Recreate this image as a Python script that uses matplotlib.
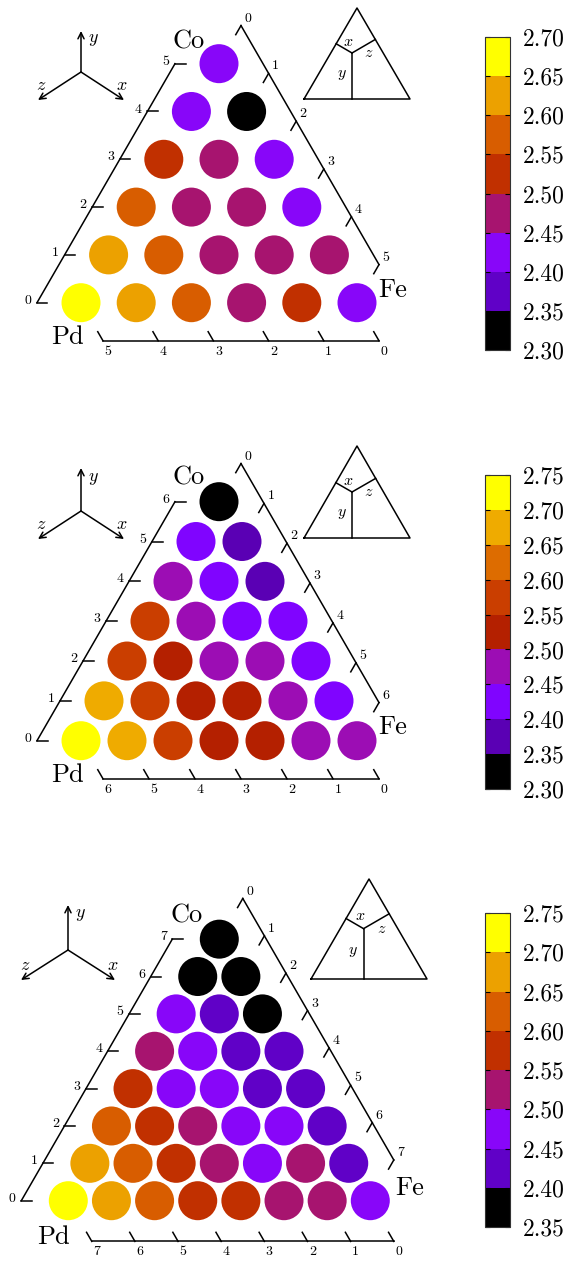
import numpy as np
import matplotlib
matplotlib.use("Agg")
import matplotlib.pyplot as plt
from matplotlib.colors import BoundaryNorm
from matplotlib.cm import ScalarMappable
from matplotlib.ticker import FormatStrFormatter

plt.rcParams["font.family"] = "serif"
plt.rcParams["font.serif"] = ["cmr10"]
plt.rcParams["mathtext.fontset"] = "cm"
plt.rcParams["axes.formatter.use_mathtext"] = True

# ---------------- data (rows from the Pd-Fe edge up to the Co corner) -------------
corner_labels = ["Pd", "Fe", "Co"]

top_rows = [
    [2.675, 2.625, 2.575, 2.475, 2.525, 2.425],
    [2.625, 2.575, 2.475, 2.475, 2.475],
    [2.575, 2.475, 2.475, 2.425],
    [2.525, 2.475, 2.425],
    [2.425, 2.325],
    [2.425],
]
top_range = (2.30, 2.70)
top_bins = 8

mid_rows = [
    [2.725, 2.675, 2.575, 2.525, 2.525, 2.475, 2.475],
    [2.675, 2.575, 2.525, 2.525, 2.475, 2.425],
    [2.575, 2.525, 2.475, 2.475, 2.425],
    [2.575, 2.475, 2.425, 2.425],
    [2.475, 2.425, 2.375],
    [2.425, 2.375],
    [2.325],
]
mid_range = (2.30, 2.75)
mid_bins = 9

bot_rows = [
    [2.725, 2.675, 2.625, 2.575, 2.575, 2.525, 2.525, 2.475],
    [2.675, 2.625, 2.575, 2.525, 2.475, 2.525, 2.425],
    [2.625, 2.575, 2.525, 2.475, 2.475, 2.425],
    [2.575, 2.475, 2.475, 2.425, 2.425],
    [2.525, 2.475, 2.425, 2.425],
    [2.475, 2.425, 2.375],
    [2.375, 2.375],
    [2.375],
]
bot_range = (2.35, 2.75)
bot_bins = 8

# ---------------- figure ------------------------------------------------------------
W, H, DPI = 571, 1261, 100
fig = plt.figure(figsize=(W / DPI, H / DPI), dpi=DPI)
SQ = np.sqrt(3) / 2


def draw_panel(rows, vrange, nbins, pd_px, span_px, off_px, comp_c, comp_tips,
               comp_lab, inset_apex, inset_half, inset_h, cbar_y, lab_off):
    scale = len(rows) - 1
    s = span_px / scale
    px0, py0 = pd_px
    ax = fig.add_axes([0, 0, 1, 1])
    ax.set_xlim(-px0 / s, (W - px0) / s)
    ax.set_ylim((py0 - H) / s, py0 / s)
    ax.axis("off")
    ax.patch.set_alpha(0)

    def to(px, py):  # absolute pixel -> data
        return (px - px0) / s, (py0 - py) / s

    def d(dx, dy):  # pixel offset (image orientation) -> data offset
        return np.array([dx / s, -dy / s])

    cmap = matplotlib.colormaps["gnuplot"].resampled(nbins)
    bounds = np.linspace(vrange[0], vrange[1], nbins + 1)
    norm = BoundaryNorm(bounds, nbins)

    xs, ys, vs = [], [], []
    for j, row in enumerate(rows):
        for i, v in enumerate(row):
            xs.append(i + j / 2)
            ys.append(j * SQ)
            vs.append(v)
    diam_pt = 39.0 * 72 / DPI
    ax.scatter(xs, ys, c=vs, cmap=cmap, norm=norm, s=diam_pt ** 2,
               linewidths=0, zorder=3)

    Pd = np.array([0.0, 0.0])
    Fe = np.array([scale, 0.0])
    Co = np.array([scale / 2, scale * SQ])
    off = off_px / s
    tl = 10.5 / s
    lw = 1.1
    L = np.array([-off, 0.0])
    R = off * np.array([0.5, SQ])
    B = off * np.array([0.5, -SQ])
    fs_t = 10

    # left axis (Co count)
    a, b = Pd + L, Co + L
    ax.plot([a[0], b[0]], [a[1], b[1]], color="black", lw=lw)
    for k in range(scale + 1):
        p = Pd + k / scale * (Co - Pd) + L
        ax.plot([p[0], p[0] + tl], [p[1], p[1]], color="black", lw=lw)
        q = p + d(-9, -2)
        ax.text(q[0], q[1], str(k), fontsize=fs_t, ha="center", va="center")
    # right axis (Fe count)
    a, b = Co + R, Fe + R
    ax.plot([a[0], b[0]], [a[1], b[1]], color="black", lw=lw)
    for k in range(scale + 1):
        p = Co + k / scale * (Fe - Co) + R
        e = p + tl * np.array([-0.5, -SQ])
        ax.plot([p[0], e[0]], [p[1], e[1]], color="black", lw=lw)
        q = p + d(7, -7)
        ax.text(q[0], q[1], str(k), fontsize=fs_t, ha="center", va="center")
    # bottom axis (Pd count)
    a, b = Pd + B, Fe + B
    ax.plot([a[0], b[0]], [a[1], b[1]], color="black", lw=lw)
    for k in range(scale + 1):
        p = Pd + k / scale * (Fe - Pd) + B
        e = p + tl * np.array([-0.5, SQ])
        ax.plot([p[0], e[0]], [p[1], e[1]], color="black", lw=lw)
        q = p + d(5, 11)
        ax.text(q[0], q[1], str(scale - k), fontsize=fs_t, ha="center", va="center")

    # corner labels
    fs_c = 19
    for name, corner, o in zip(corner_labels, [Pd, Fe, Co], lab_off):
        q = corner + d(*o)
        ax.text(q[0], q[1], name, fontsize=fs_c, ha="center", va="center")

    # compass
    c = np.array(to(*comp_c))
    for (tx, ty), (lx, ly), t in zip(comp_tips, comp_lab, ["$y$", "$x$", "$z$"]):
        tip = c + d(tx, ty)
        ax.annotate("", xy=tip, xytext=c,
                    arrowprops=dict(arrowstyle="->", lw=1.1, color="black",
                                    shrinkA=0, shrinkB=0, mutation_scale=11))
        q = c + d(lx, ly)
        ax.text(q[0], q[1], t, fontsize=13, ha="center", va="center")

    # inset triangle
    ax_, ay_ = inset_apex
    A = np.array(to(ax_, ay_))
    BL = np.array(to(ax_ - inset_half, ay_ + inset_h))
    BR = np.array(to(ax_ + inset_half, ay_ + inset_h))
    ax.plot([BL[0], BR[0], A[0], BL[0]], [BL[1], BR[1], A[1], BL[1]],
            color="black", lw=1.1)
    wpx = 2 * inset_half
    P = BL + d(0.453 * wpx, -0.434 * wpx)

    def foot(p, u, v):
        t = np.dot(p - u, v - u) / np.dot(v - u, v - u)
        return u + t * (v - u)

    for f in [foot(P, BL, BR), foot(P, BL, A), foot(P, BR, A)]:
        ax.plot([P[0], f[0]], [P[1], f[1]], color="black", lw=1.1)
    for (rx, ry), t in zip([(0.42, 0.54), (0.61, 0.43), (0.36, 0.23)],
                           ["$x$", "$z$", "$y$"]):
        q = BL + d(rx * wpx, -ry * wpx)
        ax.text(q[0], q[1], t, fontsize=11.5, ha="center", va="center")

    # colorbar
    y0, y1 = cbar_y
    cax = fig.add_axes([485 / W, 1 - y1 / H, 25 / W, (y1 - y0) / H])
    cb = fig.colorbar(ScalarMappable(norm=norm, cmap=cmap), cax=cax, ticks=bounds)
    cb.ax.yaxis.set_major_formatter(FormatStrFormatter("%.2f"))
    cax.tick_params(direction="in", length=3.5, width=0.8, left=True, right=True,
                    labelsize=17, pad=9)
    cb.outline.set_linewidth(0.8)
    cb.outline.set_edgecolor("#333333")


draw_panel(top_rows, top_range, top_bins, pd_px=(81, 302.7), span_px=276, off_px=44,
           comp_c=(81, 72), comp_tips=[(0, -41), (43, 28), (-43, 28)],
           comp_lab=[(12, -32), (41, 13), (-40, 13)],
           inset_apex=(357, 8), inset_half=53, inset_h=91, cbar_y=(37, 350),
           lab_off=[(-14, 34), (36, -13), (-30, -22)])

draw_panel(mid_rows, mid_range, mid_bins, pd_px=(81, 740.7), span_px=276, off_px=44,
           comp_c=(81, 511), comp_tips=[(0, -43), (43, 28), (-43, 28)],
           comp_lab=[(12, -32), (41, 13), (-40, 13)],
           inset_apex=(357, 446), inset_half=53, inset_h=92, cbar_y=(475, 789),
           lab_off=[(-14, 34), (36, -14), (-30, -24)])

draw_panel(bot_rows, bot_range, bot_bins, pd_px=(68.3, 1200.7), span_px=302, off_px=47,
           comp_c=(68, 950), comp_tips=[(0, -45), (47, 30), (-47, 30)],
           comp_lab=[(12, -35), (45, 15), (-43, 15)],
           inset_apex=(369, 879), inset_half=58, inset_h=100, cbar_y=(913, 1227),
           lab_off=[(-15, 36), (39, -13), (-33, -24)])

fig.savefig("out.png", dpi=DPI)
